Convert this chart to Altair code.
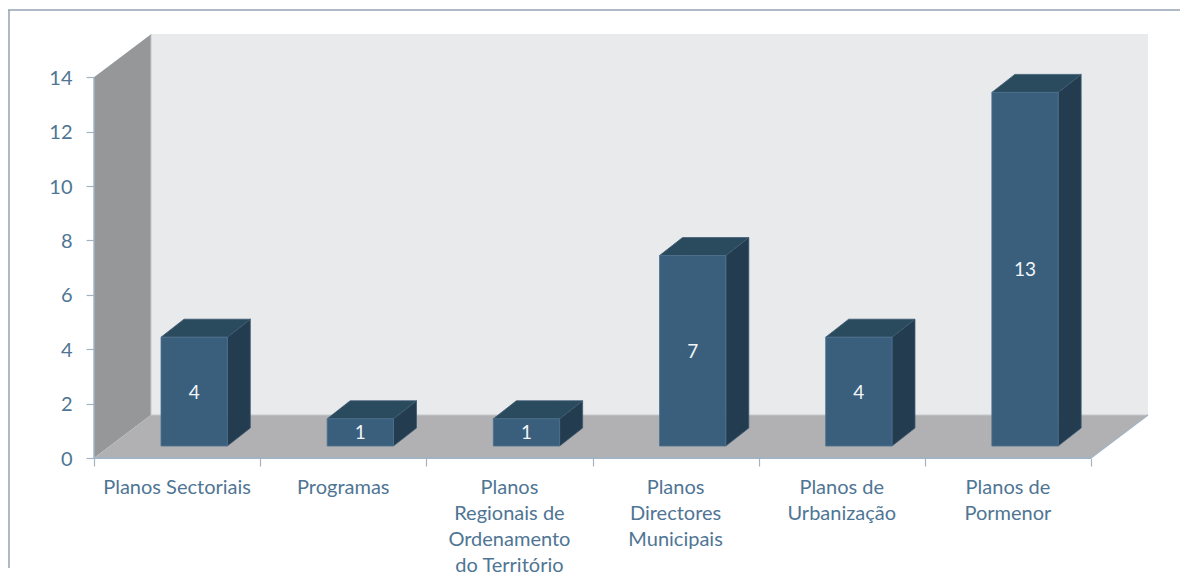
import altair as alt
import pandas as pd

categories = ["Planos Sectoriais", "Programas", "Planos\nRegionais de\nOrdenamento\ndo Território",
              "Planos\nDirectores\nMunicipais", "Planos de\nUrbanização", "Planos de\nPormenor"]
values = [4, 1, 1, 7, 4, 13]
y_ticks = [0, 2, 4, 6, 8, 10, 12, 14]
x_ticks = [0, 1, 2, 3, 4, 5, 6]

# oblique projection, in axis units (1 x unit = one category, 1 y unit = one count)
CAT_W = 166.17
UNIT_H = 27.2
PLOT_W = 1054
PLOT_H = 424
DX = 57 / CAT_W
DY = 43 / UNIT_H
BAR_X = 67 / CAT_W
BAR_W = 66.3 / CAT_W
BAR_DX = 23 / CAT_W
BAR_DY = 18 / UNIT_H
BAR_BASE = 12 / UNIT_H
X_MAX = PLOT_W / CAT_W
Y_MAX = PLOT_H / UNIT_H

FONT = "Lato"
AX = "#a3b3c3"
TXT = "#4f7594"

sx = alt.Scale(domain=[0, X_MAX], nice=False, zero=False)
sy = alt.Scale(domain=[0, Y_MAX], nice=False, zero=False)
xa = alt.Axis(values=x_ticks, labels=False, domain=False, grid=False, title=None,
              tickColor=AX, tickSize=8, tickWidth=1.2)
ya = alt.Axis(values=y_ticks, domain=False, grid=False, title=None, tickColor=AX, tickSize=8,
              tickWidth=1.2, labelFont=FONT, labelFontSize=20, labelColor=TXT, labelPadding=14,
              labelOffset=1)


def X(f):
    return alt.X(f, scale=sx, axis=xa)


def Y(f):
    return alt.Y(f, scale=sy, axis=ya)


def rows(poly, pts):
    return [{"p": poly, "x": a, "lo": b, "hi": c} for a, b, c in pts]


def area(df, color, stroke=None):
    kw = dict(color=color, opacity=1, interpolate="linear")
    if stroke:
        kw.update(stroke=stroke, strokeWidth=0.8)
    return alt.Chart(pd.DataFrame(df)).mark_area(**kw).encode(
        x=X("x:Q"), y=Y("lo:Q"), y2="hi:Q", detail="p:N")


wall = rows("w", [(DX, DY, Y_MAX), (X_MAX, DY, Y_MAX)])
side = rows("s", [(0, 0, 14), (DX, DY, 14 + DY)])
floor = rows("f", [(0, 0, 0), (DX, 0, DY), (6, 0, DY), (X_MAX, DY, DY)])

front_r, top_r, side_r = [], [], []
for k, v in enumerate(values):
    x0 = k + BAR_X
    x1 = x0 + BAR_W
    y0 = BAR_BASE
    y1 = BAR_BASE + v
    front_r += rows(k, [(x0, y0, y1), (x1, y0, y1)])
    side_r += rows(k, [(x1, y0, y1), (x1 + BAR_DX, y0 + BAR_DY, y1 + BAR_DY)])
    top_r += rows(k, [(x0, y1, y1), (x0 + BAR_DX, y1, y1 + BAR_DY),
                      (x1, y1, y1 + BAR_DY), (x1 + BAR_DX, y1 + BAR_DY, y1 + BAR_DY)])


def seg(x0, y0, x1, y1, color, width):
    return alt.Chart(pd.DataFrame({"x": [x0, x1], "y": [y0, y1], "i": [0, 1]})).mark_line(
        color=color, strokeWidth=width).encode(x=X("x:Q"), y=Y("y:Q"), order="i:Q")


blank = alt.Data(values=[{"a": 1}])
frame_top = alt.Chart(blank).mark_rule(color="#94a3b3", strokeWidth=1.5).encode(
    x=alt.value(-86), x2=alt.value(1086), y=alt.value(-24))
frame_left = alt.Chart(blank).mark_rule(color="#94a3b3", strokeWidth=1.5).encode(
    x=alt.value(-85), y=alt.value(-24), y2=alt.value(534))

cat_df = pd.DataFrame({"x": [i + 0.5 for i in range(6)], "t": categories})
cat_text = alt.Chart(cat_df).mark_text(font=FONT, fontSize=20, color=TXT, baseline="top",
                                       lineBreak="\n", lineHeight=26).encode(
    x=X("x:Q"), y=alt.value(444), text="t:N")

val_df = pd.DataFrame({"x": [i + BAR_X + BAR_W / 2 for i in range(6)],
                       "y": [BAR_BASE + v / 2 for v in values], "v": values})
val_text = alt.Chart(val_df).mark_text(font=FONT, fontSize=19, color="#f2f5f8", dy=1).encode(
    x=X("x:Q"), y=Y("y:Q"), text="v:Q")

chart = alt.layer(
    frame_top, frame_left,
    area(wall, "#e9eaec"),
    area(side, "#969799"),
    area(floor, "#b1b0b2"),
    seg(DX, DY, DX, Y_MAX, "#c4c7cb", 1),
    seg(DX, DY, X_MAX, DY, "#c4c9ce", 1),
    seg(0, 0, 0, 14, AX, 1.5),
    seg(0, 0, 6, 0, AX, 1.8),
    seg(6, 0, X_MAX, DY, AX, 1.2),
    area(side_r, "#243c50", "#3d5a72"),
    area(top_r, "#2a4a5e", "#3d5a72"),
    area(front_r, "#3a5f7d", "#4d7290"),
    val_text, cat_text,
).properties(
    width=PLOT_W, height=PLOT_H,
    padding={"left": 86, "top": 26, "right": 32, "bottom": 118},
    autosize=alt.AutoSizeParams(type="none"),
).configure_view(stroke=None)

chart.save("out.html", embed_options={"renderer": "svg", "actions": False})
